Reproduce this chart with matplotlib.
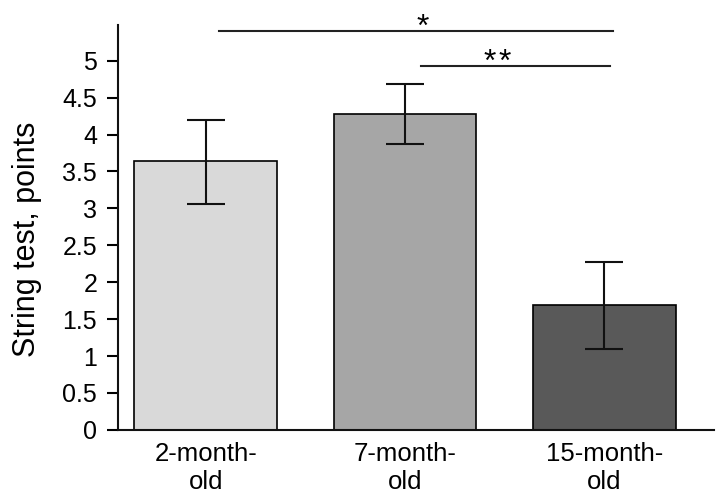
import matplotlib.pyplot as plt

plt.rcParams['font.family'] = ['Liberation Sans', 'DejaVu Sans']

groups = ['2-month-\nold', '7-month-\nold', '15-month-\nold']
means = [3.64, 4.28, 1.69]
err_low = [3.06, 3.87, 1.09]
err_high = [4.20, 4.69, 2.28]
colors = ['#d9d9d9', '#a6a6a6', '#595959']
yticks = [0, 0.5, 1, 1.5, 2, 2.5, 3, 3.5, 4, 4.5, 5]
ytick_labels = ['0', '0.5', '1', '1.5', '2', '2.5', '3', '3.5', '4', '4.5', '5']

# significance lines: (x start, x end, height, label, label x)
sig = [(0.065, 2.045, 5.40, '*', 1.088), (1.08, 2.03, 4.93, '*\u200a*', 1.464)]


def main():
    fig = plt.figure(figsize=(7.26, 5.04), dpi=100)
    ax = fig.add_axes([0.1625, 0.147, 0.821, 0.803])
    x = list(range(len(groups)))
    yerr = [[m - lo for m, lo in zip(means, err_low)],
            [hi - m for m, hi in zip(means, err_high)]]
    ax.bar(x, means, width=0.715, color=colors, edgecolor='black', linewidth=1.2,
           yerr=yerr, capsize=14, error_kw=dict(elinewidth=1.5, capthick=1.5, ecolor='#111111'))
    ax.set_xlim(-0.44, 2.55)
    ax.set_ylim(0, 5.48)
    ax.set_yticks(yticks)
    ax.set_yticklabels(ytick_labels)
    ax.set_xticks(x)
    ax.set_xticklabels(groups)
    ax.tick_params(axis='y', direction='out', length=8, width=1.5, pad=7, labelsize=18)
    ax.tick_params(axis='x', length=0, pad=9, labelsize=18.5)
    for s in ['top', 'right']:
        ax.spines[s].set_visible(False)
    for s in ['left', 'bottom']:
        ax.spines[s].set_linewidth(1.5)
        ax.spines[s].set_color('#111111')
    ax.set_ylabel('String test, points', fontsize=22)
    ax.yaxis.set_label_coords(-0.127, 0.47)

    for x0, x1, h, lab, lx in sig:
        ax.plot([x0, x1], [h, h], color='#222222', lw=1.5, clip_on=False)
        ax.text(lx, h - 0.065, lab, ha='center', va='baseline', fontsize=23, clip_on=False)

    plt.savefig('out.png', dpi=100)


if __name__ == '__main__':
    main()
